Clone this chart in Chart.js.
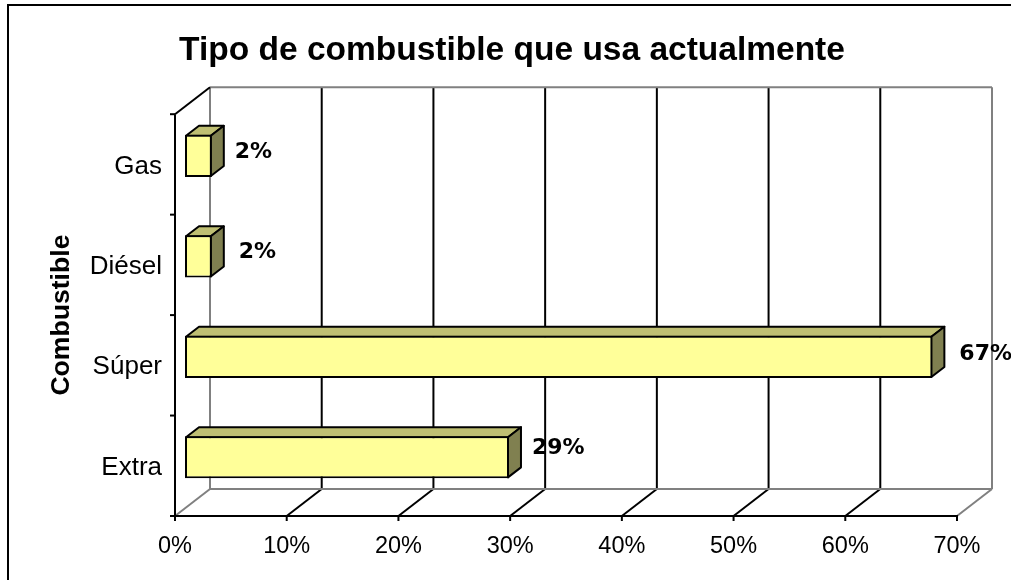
<!DOCTYPE html>
<html><head><meta charset="utf-8">
<style>html,body{margin:0;padding:0;background:#fff}#w{width:1011px;height:580px;position:relative}</style>
<script src="https://cdn.jsdelivr.net/npm/chart.js@4"></script>
</head><body><div id="w"><canvas id="c"></canvas></div>
<script>
const categories = ['Gas','Diésel','Súper','Extra'];
const shareValues = [2.4,2.4,66.9,29.0];
const shareLabels = ['2%','2%','67%','29%'];
const xTicks = [0,10,20,30,40,50,60,70];
const chartTitle = 'Tipo de combustible que usa actualmente';
const axisTitle = 'Combustible';

const WALL_DX=35, WALL_DY=-27, BAR_SHIFT_X=10, BAR_SHIFT_Y=-8.5, BAR_DX=13, BAR_DY=-10;
const labelNudge=[[23,-4],[27,-4],[27,-3],[23,-9]];

const poly=(ctx,pts,fill)=>{ctx.beginPath();pts.forEach((p,i)=>i?ctx.lineTo(p[0],p[1]):ctx.moveTo(p[0],p[1]));ctx.closePath();ctx.fillStyle=fill;ctx.fill();ctx.stroke();};
const seg=(ctx,a,b,c,d,col)=>{ctx.strokeStyle=col;ctx.beginPath();ctx.moveTo(a,b);ctx.lineTo(c,d);ctx.stroke();};

const chart3d={
  id:'chart3d',
  beforeDraw(chart){
    const ctx=chart.ctx;ctx.save();ctx.strokeStyle='#000';ctx.lineWidth=2;
    ctx.beginPath();ctx.moveTo(8,580);ctx.lineTo(8,5);ctx.lineTo(1011,5);ctx.stroke();ctx.restore();
  },
  beforeDatasetsDraw(chart){
    const {ctx,chartArea:a,scales:{x,y}}=chart;
    ctx.save();ctx.lineWidth=2;
    const G='#808080',K='#000';
    const n=xTicks.length;
    xTicks.forEach((t,i)=>{
      const px=x.getPixelForValue(t);
      const edge=i===0||i===n-1;
      if(!edge){seg(ctx,px+WALL_DX,a.top+WALL_DY,px+WALL_DX,a.bottom+WALL_DY,K);
        seg(ctx,px,a.bottom,px+WALL_DX,a.bottom+WALL_DY,K);}
    });
    const l=a.left,r=a.right;
    seg(ctx,l+WALL_DX,a.top+WALL_DY,r+WALL_DX,a.top+WALL_DY,G);
    seg(ctx,l+WALL_DX,a.bottom+WALL_DY,r+WALL_DX,a.bottom+WALL_DY,G);
    seg(ctx,l+WALL_DX,a.top+WALL_DY,l+WALL_DX,a.bottom+WALL_DY,G);
    seg(ctx,r+WALL_DX,a.top+WALL_DY,r+WALL_DX,a.bottom+WALL_DY,G);
    seg(ctx,l,a.bottom,l+WALL_DX,a.bottom+WALL_DY,G);
    seg(ctx,r,a.bottom,r+WALL_DX,a.bottom+WALL_DY,G);
    seg(ctx,l,a.top,l,a.bottom+1,K);
    seg(ctx,l-1,a.bottom,r+1,a.bottom,K);
    seg(ctx,l,a.top,l+WALL_DX,a.top+WALL_DY,K);
    xTicks.forEach(t=>{const px=x.getPixelForValue(t);seg(ctx,px,a.bottom,px,a.bottom+5,K);});
    for(let i=0;i<=categories.length;i++){const py=a.top+(a.bottom-a.top)*i/categories.length;seg(ctx,l-5,py,l,py,K);}
    ctx.strokeStyle='#000';ctx.lineJoin='round';
    chart.getDatasetMeta(0).data.forEach(b=>{
      const x0=b.base+BAR_SHIFT_X+1,x1=b.x+BAR_SHIFT_X-1,y0=b.y-b.height/2+BAR_SHIFT_Y+1,y1=b.y+b.height/2+BAR_SHIFT_Y-1;
      poly(ctx,[[x0,y0],[x1,y0],[x1+BAR_DX,y0+BAR_DY],[x0+BAR_DX,y0+BAR_DY]],'#BFBF73');
      poly(ctx,[[x1,y0],[x1+BAR_DX,y0+BAR_DY],[x1+BAR_DX,y1+BAR_DY],[x1,y1]],'#808050');
    });
    ctx.restore();
    ctx.save();ctx.translate(BAR_SHIFT_X,BAR_SHIFT_Y);
  },
  afterDatasetsDraw(chart){
    const ctx=chart.ctx;ctx.restore();
    ctx.save();
    ctx.fillStyle='#000';ctx.font='bold 22px "DejaVu Sans"';ctx.textAlign='left';ctx.textBaseline='middle';
    chart.getDatasetMeta(0).data.forEach((b,i)=>{
      ctx.fillText(shareLabels[i],b.x+BAR_SHIFT_X+labelNudge[i][0],b.y+BAR_SHIFT_Y+labelNudge[i][1]);
    });
    ctx.restore();
  }
};

new Chart(document.getElementById('c'),{
  type:'bar',
  plugins:[chart3d],
  data:{labels:categories,datasets:[{data:shareValues,backgroundColor:'#FFFF99',borderColor:'#000',borderWidth:2,borderSkipped:false,barPercentage:0.42,categoryPercentage:1}]},
  options:{
    indexAxis:'y',responsive:true,maintainAspectRatio:false,animation:false,
    layout:{padding:{left:67,right:54,top:0,bottom:0}},
    plugins:{legend:{display:false},tooltip:{enabled:false},
      title:{display:true,text:chartTitle,color:'#000',font:{family:'"Liberation Sans"',size:33.5,weight:'bold'},padding:{top:31,bottom:43}}},
    scales:{
      x:{type:'linear',min:0,max:70,grid:{display:false,drawTicks:false},border:{display:false},
        afterFit(s){s.height=64;},
        afterBuildTicks(s){s.ticks=xTicks.map(v=>({value:v}));},
        ticks:{color:'#000',font:{family:'"Liberation Sans"',size:23.5},padding:16,maxRotation:0,autoSkip:false,callback:v=>v+'%'}},
      y:{grid:{display:false,drawTicks:false},border:{display:false},
        afterFit(s){s.width=108;},
        title:{display:true,text:axisTitle,color:'#000',font:{family:'"Liberation Sans"',size:26.6,weight:'bold'},padding:{top:-21,bottom:0}},
        ticks:{color:'#000',font:{family:'"Liberation Sans"',size:26},padding:13,labelOffset:2}}
    }
  }
});
</script></body></html>
